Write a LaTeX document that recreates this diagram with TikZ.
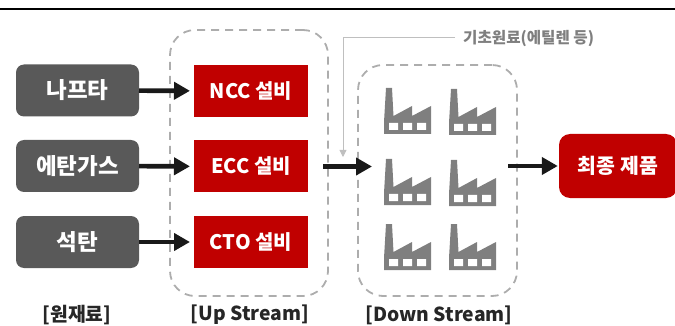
\documentclass[tikz,border=0pt]{standalone}
\usepackage{fontspec}
\setmainfont{Noto Sans CJK KR}
\usetikzlibrary{arrows.meta}
\definecolor{rawgray}{HTML}{595959}
\definecolor{plantred}{HTML}{C00000}
\definecolor{dashgray}{HTML}{ADADAD}
\definecolor{iconfill}{HTML}{7F7F7F}
\tikzstyle{rawbox}=[rounded corners=8pt, fill=rawgray, text=white, font=\bfseries\fontsize{22.5}{22.5}\selectfont, minimum width=123pt, minimum height=52pt, inner sep=0pt, outer sep=0pt]
\tikzstyle{plantbox}=[fill=plantred, text=white, font=\bfseries\fontsize{20}{20}\selectfont, minimum width=114pt, minimum height=52pt, inner sep=0pt, outer sep=0pt]
\tikzstyle{zone}=[draw=dashgray, line width=1.8pt, dash pattern=on 8pt off 6pt, rounded corners=25pt, inner sep=0pt, outer sep=0pt]
\tikzstyle{caption}=[font=\bfseries\fontsize{19.3}{19.3}\selectfont, text=black!85, inner sep=0pt]
\tikzstyle{flow}=[draw=black!90, line width=4.6pt, -{Triangle[length=16pt,width=17pt]}]
\newcommand{\rawbox}{\node[rawbox]}
\newcommand{\plantbox}{\node[plantbox]}
\newcommand{\factory}[2]{
\begin{scope}[shift={(#1,#2)}]
\fill[iconfill] (0,46) -- (0,34) -- (2,0) -- (8,0) -- (9.5,28) -- (28,18) -- (28,28) -- (47,18) -- (47,46) -- cycle;
\fill[white] (5,35) rectangle (14,42) (19,35) rectangle (28,42) (33,35) rectangle (42,42);
\end{scope}
}

\begin{document}
\begin{tikzpicture}[x=1pt, y=-1pt]
\useasboundingbox (0,0) rectangle (675,326);
\draw[line width=2pt] (0,9) -- (675,9);
\node[zone, minimum width=158pt, minimum height=266pt] (up) at (249,163) {};
\node[zone, minimum width=159pt, minimum height=231pt] (down) at (437.5,180.5) {};
\rawbox (naphtha) at (77.5,90.5) {나프타};
\rawbox (ethane) at (77.5,166) {에탄가스};
\rawbox (coal) at (77.5,242) {석탄};
\plantbox (ncc) at (251,91) {NCC 설비};
\plantbox (ecc) at (251,166.5) {ECC 설비};
\plantbox (cto) at (251,242) {CTO 설비};
\node[rounded corners=11pt, fill=plantred, text=white, font=\bfseries\fontsize{20.5}{20.5}\selectfont, minimum width=118pt, minimum height=64pt, inner sep=0pt] (product) at (618,166) {최종 제품};
\factory{384}{88}
\factory{449}{89}
\factory{384}{159}
\factory{449}{160}
\factory{384}{224}
\factory{449}{224}
\node[font=\bfseries\fontsize{15.6}{15.6}\selectfont, text=iconfill, inner sep=0pt, anchor=west] (feed) at (463,39) {기초원료(에틸렌 등)};
\node[caption] (rawlabel) at (77,315) {[원재료]};
\node[caption] (uplabel) at (250,315) {[Up Stream]};
\node[caption] (downlabel) at (439,315) {[Down Stream]};
\coordinate (feedtip) at (343,157);
\draw[draw=black!25, line width=0.8pt, -{Triangle[length=7pt,width=7pt]}] (455,37) -| (feedtip);
\path[flow] (naphtha) edge[flow, shorten >=4pt] (ncc);
\path[flow] (ethane) edge[flow, shorten >=4pt] (ecc);
\path[flow] (coal) edge[flow, shorten >=4pt] (cto);
\draw[flow, shorten <=-5pt, shorten >=-14pt] (up.east |- ecc) -- (down.west |- ecc);
\draw[flow, shorten <=-9pt, shorten >=1pt] (down.east |- product) -- (product);
\end{tikzpicture}
\end{document}
